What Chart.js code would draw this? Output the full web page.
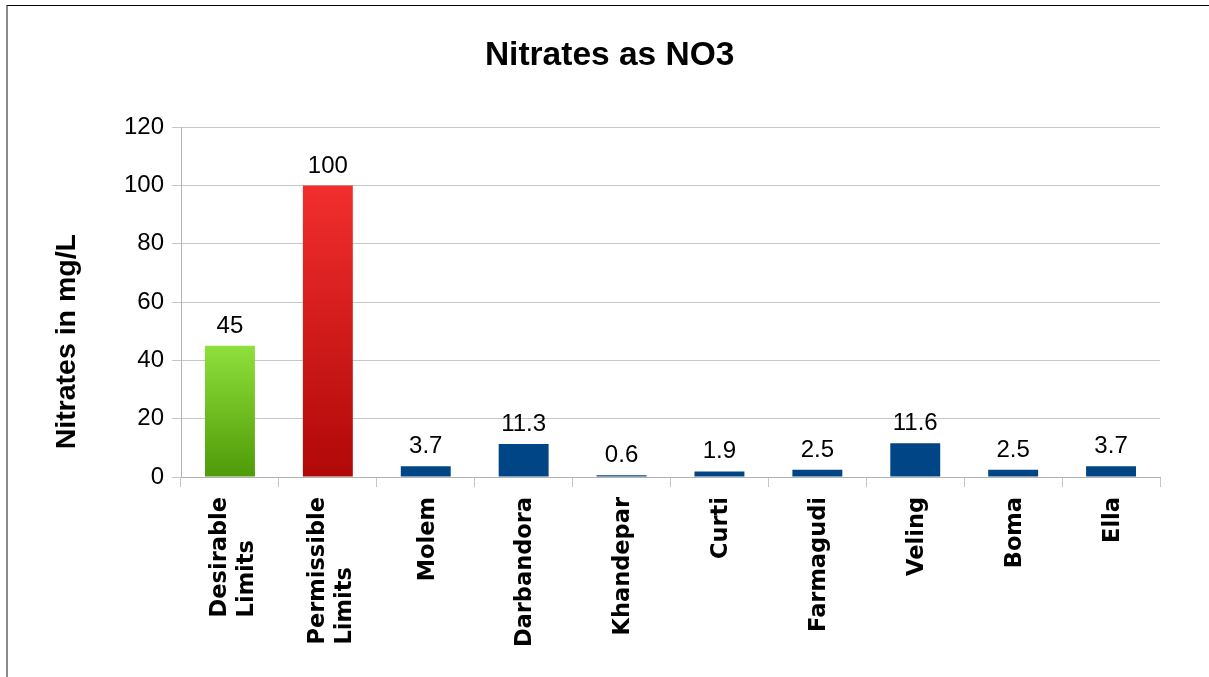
<!DOCTYPE html>
<html>
<head>
<meta charset="utf-8">
<script src="https://cdn.jsdelivr.net/npm/chart.js@4"></script>
<style>
  html, body { margin: 0; padding: 0; background: #fff; }
  #frame { position: absolute; left: 6px; top: 5px; width: 1203px; height: 672px;
           border-left: 2px solid #8a8a8a; border-top: 1px solid #000; }
  #wrap { position: absolute; left: 0; top: 0; width: 1209px; height: 677px; }
</style>
</head>
<body>
<div id="frame"></div>
<div id="wrap"><canvas id="c" width="1209" height="677"></canvas></div>
<script>
const categories = [
  ['Desirable', 'Limits'], ['Permissible', 'Limits'], 'Molem', 'Darbandora',
  'Khandepar', 'Curti', 'Farmagudi', 'Veling', 'Boma', 'Ella'
];
const nitrateValues = [45, 100, 3.7, 11.3, 0.6, 1.9, 2.5, 11.6, 2.5, 3.7];
const valueLabels = ['45', '100', '3.7', '11.3', '0.6', '1.9', '2.5', '11.6', '2.5', '3.7'];
const yTicks = [0, 20, 40, 60, 80, 100, 120];
const titleText = 'Nitrates as NO3';
const yTitleText = 'Nitrates in mg/L';

const X_FONT_SIZE = 22.5;
const X_LINE_HEIGHT = 1.2;

function barFill(ctx) {
  const i = ctx.dataIndex;
  const chart = ctx.chart;
  if (i >= 2) return '#004586';
  const y = chart.scales.y;
  if (!y || !chart.chartArea) return i === 0 ? '#6cbf25' : '#d81c1c';
  const top = y.getPixelForValue(nitrateValues[i]);
  const bottom = y.getPixelForValue(0);
  const g = chart.ctx.createLinearGradient(0, top, 0, bottom);
  if (i === 0) { g.addColorStop(0, '#8fe03c'); g.addColorStop(1, '#4e9a08'); }
  else { g.addColorStop(0, '#f22e2e'); g.addColorStop(1, '#b00808'); }
  return g;
}

// multi-line rotated category labels: centre the block on the tick and
// align the lines at their start (bottom), as in the reference
const multilineLabels = {
  id: 'multilineLabels',
  beforeDraw(chart) {
    const x = chart.scales.x;
    const items = x.getLabelItems(chart.chartArea);
    const ctx = chart.ctx;
    items.forEach(it => {
      if (Array.isArray(it.label) && it.label.length > 1 && !it._shifted) {
        ctx.save();
        ctx.font = it.font.string;
        const maxW = Math.max(...it.label.map(s => ctx.measureText(s).width));
        ctx.restore();
        it.options.translation[0] -= 11.5;
        it.options.translation[1] += maxW;
        it.options.textAlign = 'left';
        it._shifted = true;
      }
    });
  }
};

const valueLabelPlugin = {
  id: 'valueLabels',
  afterDatasetsDraw(chart) {
    const ctx = chart.ctx;
    const meta = chart.getDatasetMeta(0);
    ctx.save();
    ctx.font = '24px "Liberation Sans", Arial, sans-serif';
    ctx.fillStyle = '#000';
    ctx.textAlign = 'center';
    ctx.textBaseline = 'alphabetic';
    meta.data.forEach((bar, i) => {
      ctx.fillText(valueLabels[i], bar.x, bar.y - 13);
    });
    ctx.restore();
  }
};

new Chart(document.getElementById('c'), {
  type: 'bar',
  data: {
    labels: categories,
    datasets: [{
      data: nitrateValues,
      backgroundColor: barFill,
      borderWidth: 0,
      barPercentage: 0.51,
      categoryPercentage: 1
    }]
  },
  options: {
    responsive: false,
    animation: false,
    devicePixelRatio: 1,
    layout: { padding: { left: 50, right: 49, top: 0, bottom: 0 } },
    plugins: {
      legend: { display: false },
      tooltip: { enabled: false },
      title: {
        display: true,
        text: ' ' + titleText,
        color: '#000',
        font: { family: '"Liberation Sans", Arial, sans-serif', size: 33.5, weight: 'bold', lineHeight: 1.2 },
        padding: { top: 36, bottom: 51 }
      }
    },
    scales: {
      y: {
        min: 0, max: 120,
        afterBuildTicks(scale) { scale.ticks = yTicks.map(v => ({ value: v })); },
        afterFit(scale) { scale.width = 131; },
        ticks: {
          color: '#000',
          padding: 8,
          font: { family: '"Liberation Sans", Arial, sans-serif', size: 24 }
        },
        grid: { color: '#c6c6c6', tickLength: 9, tickColor: '#c6c6c6' },
        border: { color: '#b3b3b3' },
        title: {
          display: true,
          text: yTitleText + '          ',
          color: '#000',
          padding: { top: 0, bottom: 0 },
          font: { family: '"Liberation Sans", Arial, sans-serif', size: 28.5, weight: 'bold', lineHeight: 1.2 }
        }
      },
      x: {
        afterFit(scale) { scale.height = 200; },
        ticks: {
          color: '#000',
          minRotation: 90, maxRotation: 90,
          padding: 10,
          labelOffset: 2,
          autoSkip: false,
          font: { family: '"DejaVu Sans", sans-serif', size: X_FONT_SIZE, weight: 'bold', lineHeight: X_LINE_HEIGHT }
        },
        grid: {
          offset: true,
          tickLength: 10,
          tickColor: '#c6c6c6',
          color: (c) => (c.index === categories.length ? '#c6c6c6' : 'rgba(0,0,0,0)')
        },
        border: { color: '#b3b3b3' }
      }
    }
  },
  plugins: [multilineLabels, valueLabelPlugin]
});
</script>
</body>
</html>
